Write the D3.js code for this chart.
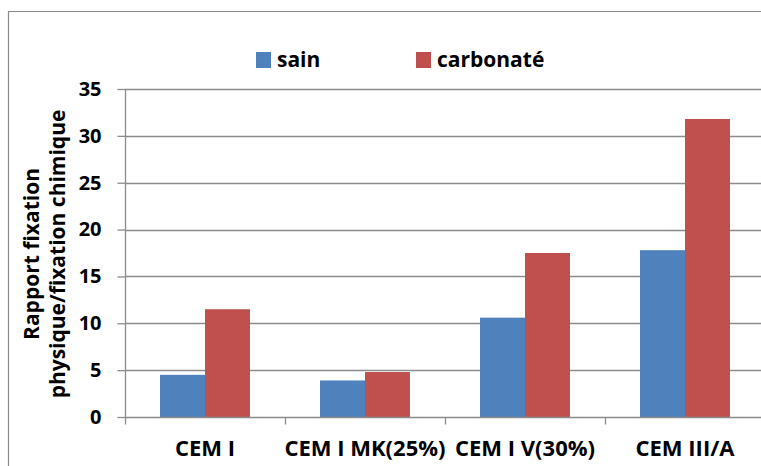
<!DOCTYPE html>
<html>
<head>
<meta charset="utf-8">
<script src="https://cdn.jsdelivr.net/npm/d3@7"></script>
<style>
  html, body { margin: 0; padding: 0; background: #fff; }
  svg { display: block; }
  text { font-family: "Open Sans", Lato, sans-serif; font-weight: 700; fill: #000; }
</style>
</head>
<body>
<svg id="chart" width="761" height="466"></svg>
<script>
const categories = ["CEM I", "CEM I MK(25%)", "CEM I V(30%)", "CEM III/A"];
const seriesNames = ["sain", "carbonaté"];
const sainValues = [4.5, 3.9, 10.6, 17.8];
const carbonateValues = [11.5, 4.8, 17.5, 31.8];
const yTicks = [0, 5, 10, 15, 20, 25, 30, 35];
const colors = ["#4F81BD", "#C0504D"];

const svg = d3.select("#chart");
const W = 761, H = 466;

// outer frame (chart area border)
svg.append("path")
  .attr("d", `M8.5,${H + 5} V11.5 H${W + 5}`)
  .attr("fill", "none").attr("stroke", "#8a8a8a").attr("stroke-width", 1.2);

const x = d3.scaleBand().domain(categories).range([125, 765]).padding(0);
const xs = d3.scaleBand().domain(seriesNames).range([0, x.bandwidth()]).paddingInner(0).paddingOuter(0.7778);
const y = d3.scaleLinear().domain([0, 35]).range([417, 89]);

// gridlines
svg.append("g").selectAll("line").data(yTicks.filter(d => d > 0)).join("line")
  .attr("x1", 125).attr("x2", 765)
  .attr("y1", d => Math.round(y(d)) + 0.5).attr("y2", d => Math.round(y(d)) + 0.5)
  .attr("stroke", "#8c8c8c").attr("stroke-width", 1.3);

// bars
const data = categories.map((c, i) => ({ cat: c, vals: [sainValues[i], carbonateValues[i]] }));
const groups = svg.append("g").selectAll("g").data(data).join("g")
  .attr("transform", d => `translate(${x(d.cat)},0)`);
groups.selectAll("rect").data(d => d.vals.map((v, j) => ({ s: seriesNames[j], v, j }))).join("rect")
  .attr("x", d => xs(d.s)).attr("width", xs.bandwidth())
  .attr("y", d => y(d.v)).attr("height", d => y(0) - y(d.v))
  .attr("fill", d => colors[d.j]);

// y axis
const yAxis = svg.append("g").attr("transform", "translate(125.5,0)")
  .call(d3.axisLeft(y).tickValues(yTicks).tickSize(8).tickPadding(16).tickFormat(d3.format("d")));
yAxis.selectAll("path, line").attr("stroke", "#8c8c8c").attr("stroke-width", 1.3);
yAxis.selectAll("text").style("font-size", "20px").style("font-family", "'Open Sans', sans-serif").style("font-weight", 700).attr("fill", "#000");
yAxis.select(".domain").attr("d", "M0,89V417");

// x axis
const xAxis = svg.append("g").attr("transform", "translate(0,417.5)")
  .call(d3.axisBottom(x).tickSize(0).tickPadding(0).tickFormat(""));
xAxis.select(".domain").attr("d", "M125,0H765").attr("stroke", "#8c8c8c").attr("stroke-width", 1.3);
xAxis.selectAll(".tick").remove();
const xBoundaries = categories.map(c => x(c)).concat([x.range()[1]]);
xAxis.selectAll("line.sep").data(xBoundaries).join("line").attr("class", "sep")
  .attr("x1", d => d + 0.5).attr("x2", d => d + 0.5).attr("y1", 0).attr("y2", 7)
  .attr("stroke", "#8c8c8c").attr("stroke-width", 1.3);
svg.append("g").selectAll("text").data(categories).join("text")
  .attr("x", d => x(d) + x.bandwidth() / 2).attr("y", 456)
  .attr("text-anchor", "middle").style("font-size", "22px").text(d => d);

// y axis title
const yTitle = svg.append("text").attr("transform", "translate(0,254) rotate(-90)")
  .attr("text-anchor", "middle").style("font-size", "21px");
yTitle.append("tspan").attr("x", 0).attr("y", 39).text("Rapport fixation");
yTitle.append("tspan").attr("x", 0).attr("y", 65).text("physique/fixation chimique");

// legend
const legendX = [256, 416];
const legend = svg.append("g").selectAll("g").data(seriesNames).join("g")
  .attr("transform", (d, i) => `translate(${legendX[i]},52)`);
legend.append("rect").attr("width", 15).attr("height", 16).attr("fill", (d, i) => colors[i]);
legend.append("text").attr("x", 21).attr("y", 15).style("font-size", "21px").text(d => d);
</script>
</body>
</html>
